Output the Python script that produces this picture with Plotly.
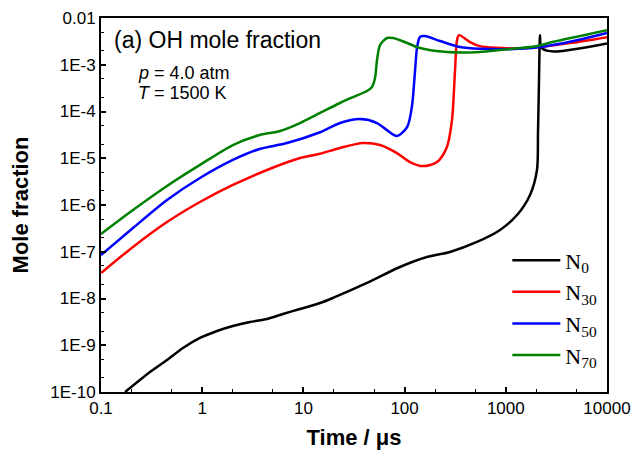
import plotly.graph_objects as go

# OH mole fraction histories at p = 4.0 atm, T = 1500 K
t_n0 = [0.173, 0.305, 0.449, 0.645, 0.95, 1.40, 2.01, 2.96, 4.37, 6.28, 9.25, 14.6,
        19.6, 42.5, 90, 166, 281, 519, 877, 1291, 1735, 2033, 2080, 2130, 2165,
        2180, 2230, 2550, 3430, 10000]
x_n0 = [1e-10, 2.68e-10, 4.83e-10, 8.73e-10, 1.43e-9, 2.02e-9, 2.58e-9, 3.14e-9,
        3.64e-9, 4.66e-9, 5.96e-9, 8.0e-9, 1.03e-8, 2.15e-8, 4.72e-8, 7.7e-8,
        9.9e-8, 1.62e-7, 2.92e-7, 6.1e-7, 1.64e-6, 5.6e-6, 3.5e-5, 5e-4, 3.5e-3,
        4.3e-3, 2.4e-3, 2.0e-3, 1.95e-3, 2.85e-3]

t_n30 = [0.1, 0.207, 0.449, 0.95, 2.01, 4.37, 9.25, 14.6, 23, 38.8, 57.2, 84, 113,
         152, 209, 262, 294, 315, 330, 345, 443, 556, 800, 1380, 2500, 4300, 10000]
x_n30 = [3.5e-8, 1.27e-7, 4.33e-7, 1.16e-6, 2.68e-6, 5.6e-6, 1.01e-5, 1.25e-5,
         1.66e-5, 2.12e-5, 1.92e-5, 1.29e-5, 8.3e-6, 6.8e-6, 8.3e-6, 1.74e-5,
         6.6e-5, 7.7e-4, 3.4e-3, 4.3e-3, 3.06e-3, 2.5e-3, 2.3e-3, 2.25e-3, 2.5e-3,
         2.9e-3, 3.9e-3]

t_n50 = [0.1, 0.207, 0.449, 0.95, 2.01, 3.7, 6.89, 14.6, 23, 36.2, 53.4, 67, 84,
         106, 118, 127, 133, 142, 158, 224, 352, 556, 1380, 2500, 4300, 10000]
x_n50 = [8.5e-8, 3.22e-7, 1.28e-6, 3.78e-6, 9.2e-6, 1.58e-5, 2.12e-5, 3.6e-5,
         5.67e-5, 6.9e-5, 5.67e-5, 4.0e-5, 3.0e-5, 4.66e-5, 1.25e-4, 7.7e-4,
         2.4e-3, 3.93e-3, 4.1e-3, 3.22e-3, 2.4e-3, 2.2e-3, 2.2e-3, 2.5e-3,
         3.1e-3, 4.8e-3]

t_n70 = [0.1, 0.207, 0.449, 0.95, 2.01, 3.7, 5.87, 9.25, 14.6, 23, 31, 42.5, 47.6,
         51, 53.4, 57.2, 67, 77, 106, 142, 262, 556, 930, 2000, 2950, 10000]
x_n70 = [2.4e-7, 7.8e-7, 2.55e-6, 7.2e-6, 1.92e-5, 3.14e-5, 3.83e-5, 5.67e-5,
         9.3e-5, 1.52e-4, 2.04e-4, 2.75e-4, 3.35e-4, 5.2e-4, 1.26e-3, 2.64e-3,
         3.73e-3, 3.73e-3, 2.92e-3, 2.28e-3, 1.87e-3, 1.87e-3, 2.1e-3, 2.5e-3,
         3.1e-3, 5.5e-3]

series = [
    ("N<sub>0</sub>", t_n0, x_n0, "#000000"),
    ("N<sub>30</sub>", t_n30, x_n30, "#ff0000"),
    ("N<sub>50</sub>", t_n50, x_n50, "#0000ff"),
    ("N<sub>70</sub>", t_n70, x_n70, "#008000"),
]

x_ticks = [0.1, 1, 10, 100, 1000, 10000]
x_tick_text = ["0.1", "1", "10", "100", "1000", "10000"]
y_ticks = [1e-10, 1e-9, 1e-8, 1e-7, 1e-6, 1e-5, 1e-4, 1e-3, 1e-2]
y_tick_text = ["1E-10", "1E-9", "1E-8", "1E-7", "1E-6", "1E-5", "1E-4", "1E-3", "0.01"]

SANS = "Liberation Sans, Arial"

fig = go.Figure()
for name, t, x, color in series:
    fig.add_trace(go.Scatter(
        x=t, y=x, mode="lines", name=name,
        line=dict(color=color, width=2.5, shape="spline", smoothing=0.8),
    ))

axis_common = dict(
    type="log", showgrid=False, zeroline=False, automargin=False,
    showline=True, linecolor="black", linewidth=2, mirror=True,
    ticks="inside", ticklen=5, tickwidth=1.5, tickcolor="black",
    tickfont=dict(family=SANS, size=17, color="black"),
    minor=dict(ticks="inside", ticklen=3, tickwidth=1, tickcolor="black"),
)

fig.update_xaxes(
    **axis_common,
    range=[-1, 4], tickvals=x_ticks, ticktext=x_tick_text,
    title=dict(text="<b>Time / μs</b>", standoff=12,
               font=dict(family=SANS, size=22, color="black")),
)
fig.update_yaxes(
    **axis_common,
    range=[-10, -2], tickvals=y_ticks, ticktext=y_tick_text,
    title=dict(text="<b>Mole fraction</b>", standoff=16,
               font=dict(family=SANS, size=22, color="black")),
)

fig.add_annotation(
    x=0.022, y=0.941, xref="paper", yref="paper", xanchor="left", yanchor="middle",
    text="(a) OH mole fraction", showarrow=False,
    font=dict(family=SANS, size=23, color="black"),
)
fig.add_annotation(
    x=0.069, y=0.853, xref="paper", yref="paper", xanchor="left", yanchor="middle",
    text="<i>p</i> = 4.0 atm", showarrow=False,
    font=dict(family=SANS, size=18, color="black"),
)
fig.add_annotation(
    x=0.069, y=0.80, xref="paper", yref="paper", xanchor="left", yanchor="middle",
    text="<i>T</i> = 1500 K", showarrow=False,
    font=dict(family=SANS, size=18, color="black"),
)

fig.update_layout(
    width=633, height=457,
    margin=dict(l=101, r=26, t=18, b=65),
    paper_bgcolor="white", plot_bgcolor="white",
    showlegend=True,
    legend=dict(
        x=0.803, y=0.408, xanchor="left", yanchor="top",
        bgcolor="rgba(0,0,0,0)", itemwidth=48, tracegroupgap=0,
        font=dict(family="Liberation Serif, Times New Roman", size=22, color="black"),
    ),
)

fig.write_html("out.html")
